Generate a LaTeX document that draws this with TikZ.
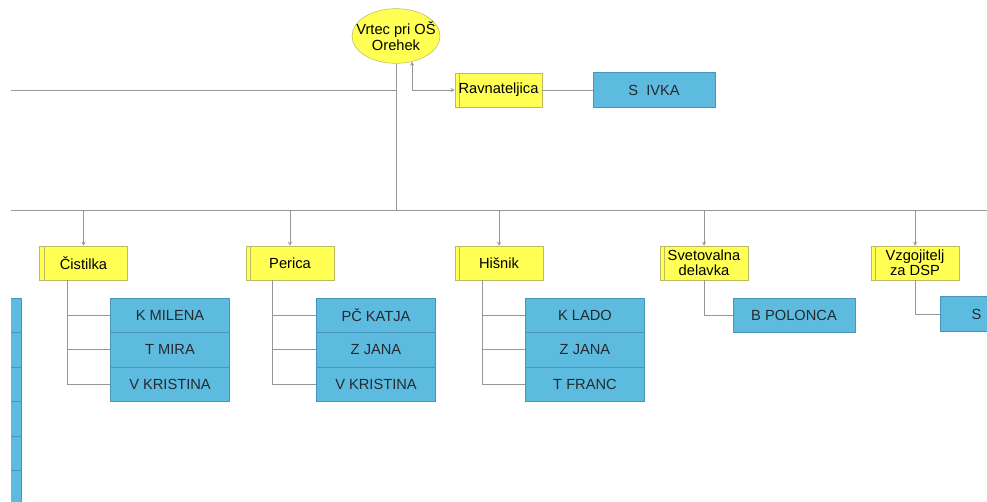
\documentclass[tikz,border=0pt]{standalone}
\usepackage{fontspec}
\setmainfont{Liberation Sans}
\usepackage{xcolor}
\usepackage{tikz}
\usetikzlibrary{positioning,calc,arrows.meta,shapes.geometric}
\definecolor{roleyellow}{RGB}{255,255,84}
\definecolor{roleedge}{RGB}{186,186,96}
\definecolor{personblue}{RGB}{92,187,222}
\definecolor{personedge}{RGB}{72,150,186}
\definecolor{persontext}{RGB}{38,42,48}
\definecolor{linegray}{RGB}{150,150,150}

\begin{document}
\begin{tikzpicture}[x=0.75pt, y=-0.75pt, link/.style={draw=linegray, line width=0.6pt}, drop/.style={link, -{Stealth[length=3pt,width=3pt]}}, head/.style={ellipse, draw=roleedge, fill=roleyellow, minimum width=66pt, minimum height=41pt, inner xsep=-7pt, inner ysep=0pt, align=center, font=\fontsize{11}{11.5}\selectfont}, role/.style={draw=roleedge, fill=roleyellow, minimum width=66pt, minimum height=25.5pt, inner xsep=1pt, inner ysep=0.5pt, align=center, font=\fontsize{11}{11.5}\selectfont, path picture={\draw[roleedge] ([xshift=3.5pt]path picture bounding box.north west) -- ([xshift=3.5pt]path picture bounding box.south west);}}, person/.style={draw=personedge, fill=personblue, minimum width=89pt, minimum height=25.9pt, inner sep=1pt, text=persontext, font=\fontsize{11}{12}\selectfont}]
\useasboundingbox (0,0) rectangle (987,501);
\clip (11,0) rectangle (987,501);
% top of the chart
\node[head] (vrtec) at (396,36) {Vrtec pri OŠ\\Orehek};
\node[role, minimum width=65.25pt] (ravn) at (498.5,90) {Ravnateljica};
\node[person, minimum width=91.5pt] (sivka) at (654,90) {S~ IVKA};
\coordinate (topL) at (11,90);
\coordinate (busL) at (11,210);
\coordinate (busR) at (987,210);
\draw[link] (topL) -- (topL -| vrtec.south);
\draw[link] (vrtec.south) -- (vrtec.south |- busL);
\draw[link] (busL) -- (busR);
\draw[link, {Stealth[length=3pt,width=3pt]}-{Stealth[length=3pt,width=3pt]}] (vrtec.-58) |- (ravn.west);
\draw[link] (ravn.east) -- (sivka.west);
% second level
\node[role] (cist) at (83.5,263) {Čistilka};
\node[role] (peri) at (290,263) {Perica};
\node[role] (hisn) at (499,263) {Hišnik};
\node[role] (svet) at (704,263) {Svetovalna\\delavka};
\node[role] (vzgo) at (915,263) {Vzgojitelj\\za DSP};
\foreach \r in {cist,peri,hisn,svet,vzgo}
  \draw[drop] (\r.north |- busL) -- (\r.north);
% staff
\node[person] (cist1) at (170,315.25) {K MILENA};
\node[person] (cist2) at (170,349.75) {T MIRA};
\node[person] (cist3) at (170,384.25) {V KRISTINA};
\node[person] (peri1) at (376,315.25) {PČ KATJA};
\node[person] (peri2) at (376,349.75) {Z JANA};
\node[person] (peri3) at (376,384.25) {V KRISTINA};
\node[person] (hisn1) at (585,315.25) {K LADO};
\node[person] (hisn2) at (585,349.75) {Z JANA};
\node[person] (hisn3) at (585,384.25) {T FRANC};
\node[person, minimum width=91.5pt] (svet1) at (794,315.25) {B POLONCA};
\node[person, minimum width=91.5pt] (vzgo1) at (1001,314) {\makebox[44pt][l]{S}};
\foreach \r/\dx in {cist/-16.5,peri/-18,hisn/-17}{
  \coordinate (\r v) at ($(\r.south)+(\dx,0)$);
  \draw[link] (\r v) |- (\r3.west);
  \draw[link] (\r v |- \r1.west) -- (\r1.west);
  \draw[link] (\r v |- \r2.west) -- (\r2.west);
}
\draw[link] (svet.south) |- (svet1.west);
\draw[link] (vzgo.south) |- (vzgo1.west);
% cut-off column on the left
\foreach \i in {0,...,5}
  \node[person] (left\i) at (-38.5,315.25+34.5*\i) {};
\end{tikzpicture}
\end{document}
